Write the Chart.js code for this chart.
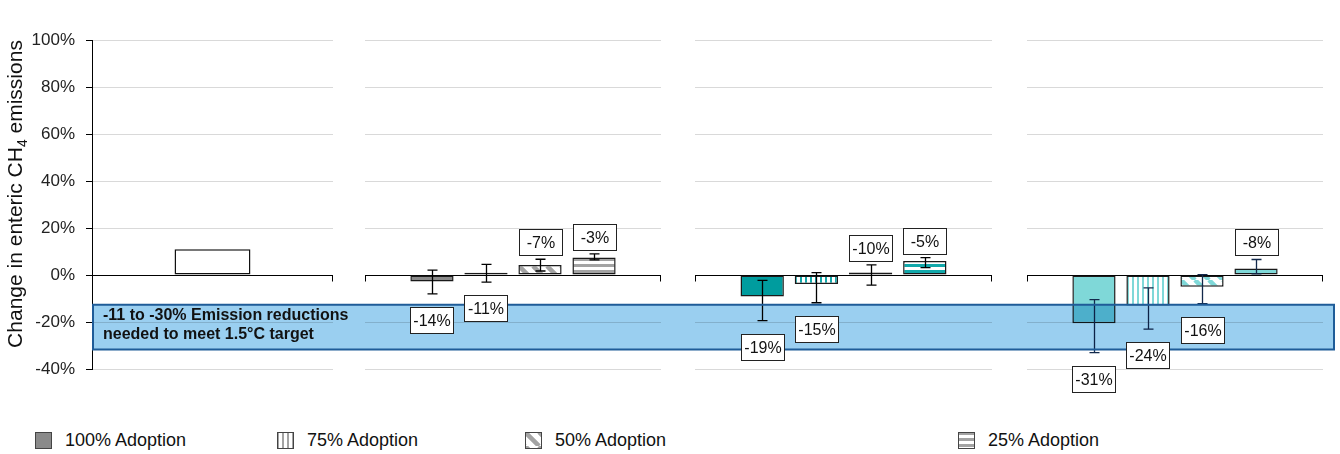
<!DOCTYPE html>
<html>
<head>
<meta charset="utf-8">
<script src="https://cdn.jsdelivr.net/npm/chart.js@4.4.0/dist/chart.umd.min.js"></script>
<style>
  body { margin: 0; background: #fff; width: 1340px; height: 454px; overflow: hidden; position: relative;
         font-family: "Liberation Sans", Arial, sans-serif; }
  .panel { position: absolute; top: 0; }
  .item { position: absolute; top: 431px; height: 18px; display: flex; align-items: center;
          font-size: 18px; color: #111; white-space: nowrap; }
  .item canvas { margin-right: 13px; }
</style>
</head>
<body>
<div class="panel" style="left:0px"><canvas id="p0" width="365" height="400"></canvas></div>
<div class="panel" style="left:365px"><canvas id="p1" width="330" height="400"></canvas></div>
<div class="panel" style="left:695px"><canvas id="p2" width="332" height="400"></canvas></div>
<div class="panel" style="left:1027px"><canvas id="p3" width="313" height="400"></canvas></div>
<div id="legend"></div>

<script>
// values (percent change)
const seriesNames = ['100% Adoption', '75% Adoption', '50% Adoption', '25% Adoption'];
const yTickValues = [-40, -20, 0, 20, 40, 60, 80, 100];
const baselineValue = [11];

const grayValues = [-2.8, 1.0, 4.3, 7.5];
const grayHigh = [2.1, 4.5, 6.7, 9.0];
const grayLow = [-8.0, -3.0, 1.7, 6.4];
const grayLabels = ['-14%', '-11%', '-7%', '-3%'];

const tealValues = [-9.2, -3.8, 1.1, 6.0];
const tealHigh = [-2.3, 1.0, 4.3, 7.4];
const tealLow = [-19.4, -11.8, -4.3, 3.1];
const tealLabels = ['-19%', '-15%', '-10%', '-5%'];

const aquaValues = [-20.5, -13.0, -5.0, 2.8];
const aquaHigh = [-10.5, -5.5, 0.2, 6.6];
const aquaLow = [-33.0, -23.0, -12.2, 0.5];
const aquaLabels = ['-31%', '-24%', '-16%', '-8%'];

const targetBand = [-12.7, -31.7];
const bandText = ['-11 to -30% Emission reductions', 'needed to meet 1.5°C target'];

const FONT = '"Liberation Sans", Arial, sans-serif';
const patternKinds = ['solid', 'vertical', 'diagonal', 'horizontal'];

Chart.defaults.font.family = FONT;
Chart.defaults.plugins.legend.display = false;
Chart.defaults.plugins.tooltip.enabled = false;

function makePattern(kind, color) {
  if (kind === 'solid') return color;
  const c = document.createElement('canvas');
  const g = c.getContext('2d');
  if (kind === 'vertical') {
    c.width = 5; c.height = 5;
    g.fillStyle = '#fff'; g.fillRect(0, 0, 5, 5);
    g.fillStyle = color; g.fillRect(0, 0, 2, 5);
  } else if (kind === 'horizontal') {
    c.width = 6; c.height = 6;
    g.fillStyle = '#fff'; g.fillRect(0, 0, 6, 6);
    g.fillStyle = color; g.fillRect(0, 0, 6, 3);
  } else {
    c.width = 14; c.height = 14;
    g.fillStyle = '#fff'; g.fillRect(0, 0, 14, 14);
    g.strokeStyle = color; g.lineWidth = 4.5;
    g.beginPath();
    for (let k = -1; k <= 1; k++) { g.moveTo(k * 14, 0); g.lineTo(k * 14 + 14, 14); }
    g.stroke();
  }
  return g.createPattern(c, 'repeat');
}

function decor(p) {
  return {
    id: 'decor' + p.id,
    beforeDatasetsDraw(chart) {
      const { ctx, chartArea: a, scales: { y } } = chart;
      const y0 = Math.round(y.getPixelForValue(0)) + 0.5;
      ctx.save();
      ctx.strokeStyle = '#000';
      ctx.lineWidth = 1;
      ctx.beginPath();
      ctx.moveTo(a.left, y0); ctx.lineTo(a.right, y0);
      if (!p.axis) { ctx.moveTo(a.left + 0.5, y0); ctx.lineTo(a.left + 0.5, y0 + 6); }
      ctx.moveTo(a.right - 0.5, y0); ctx.lineTo(a.right - 0.5, y0 + 6);
      ctx.stroke();
      ctx.restore();
    },
    afterDatasetsDraw(chart) {
      const { ctx, chartArea: a, scales: { y } } = chart;
      ctx.save();
      // error bars
      if (p.high) {
        ctx.strokeStyle = p.errColor;
        ctx.lineWidth = 1.3;
        p.high.forEach((hi, i) => {
          const bar = chart.getDatasetMeta(i).data[0];
          const x = Math.round(bar.x) + 0.5;
          const yh = y.getPixelForValue(hi), yl = y.getPixelForValue(p.low[i]);
          ctx.beginPath();
          ctx.moveTo(x, yh); ctx.lineTo(x, yl);
          ctx.moveTo(x - 5, yh); ctx.lineTo(x + 5, yh);
          ctx.moveTo(x - 5, yl); ctx.lineTo(x + 5, yl);
          ctx.stroke();
        });
      }
      // target band, spread through the gap to the next panel
      const yt = y.getPixelForValue(targetBand[0]), yb = y.getPixelForValue(targetBand[1]);
      const x0 = a.left, x1 = p.last ? a.right + 12 : chart.width;
      ctx.globalCompositeOperation = 'multiply';
      ctx.fillStyle = '#9acff0';
      ctx.fillRect(x0, yt, x1 - x0, yb - yt);
      ctx.globalCompositeOperation = 'source-over';
      ctx.strokeStyle = '#1f5c98';
      ctx.lineWidth = 2;
      ctx.beginPath();
      ctx.moveTo(x0, yt); ctx.lineTo(x1, yt);
      ctx.moveTo(x0, yb); ctx.lineTo(x1, yb);
      if (p.axis) { ctx.moveTo(x0 + 1, yt); ctx.lineTo(x0 + 1, yb); }
      if (p.last) { ctx.moveTo(x1 - 1, yt); ctx.lineTo(x1 - 1, yb); }
      ctx.stroke();
      if (p.axis) {
        ctx.fillStyle = '#111';
        ctx.font = 'bold 16px ' + FONT;
        ctx.textBaseline = 'middle';
        ctx.textAlign = 'left';
        ctx.fillText(bandText[0], a.left + 11, yt + 11);
        ctx.fillText(bandText[1], a.left + 11, yt + 30);
      }
      // value boxes
      if (p.labels) {
        ctx.font = '16px ' + FONT;
        ctx.textAlign = 'center';
        ctx.textBaseline = 'middle';
        p.labels.forEach((t, i) => {
          const bar = chart.getDatasetMeta(i).data[0];
          const w = Math.round(bar.width), h = 26;
          const left = Math.round(bar.x - w / 2) + 0.5;
          const top = p.side[i] === 'below'
            ? Math.round(y.getPixelForValue(p.low[i]) + 13) + 0.5
            : Math.round(y.getPixelForValue(p.high[i]) - 4 - h) + 0.5;
          ctx.fillStyle = '#fff';
          ctx.fillRect(left, top, w, h);
          ctx.strokeStyle = '#222';
          ctx.lineWidth = 1;
          ctx.strokeRect(left, top, w, h);
          ctx.fillStyle = '#111';
          ctx.fillText(t, left + w / 2, top + h / 2 + 1);
        });
      }
      ctx.restore();
    },
    afterDraw(chart) {
      if (!p.axis) return;
      // y title with CH4 subscript
      const ctx = chart.ctx;
      const big = '21px ' + FONT, small = '14px ' + FONT;
      const parts = [['Change in enteric CH', big, 0], ['4', small, 5], [' emissions', big, 0]];
      ctx.save();
      let total = 0;
      parts.forEach(pt => { ctx.font = pt[1]; total += ctx.measureText(pt[0]).width; });
      ctx.translate(22, 194);
      ctx.rotate(-Math.PI / 2);
      ctx.fillStyle = '#111';
      ctx.textBaseline = 'alphabetic';
      let x = -total / 2;
      parts.forEach(pt => {
        ctx.font = pt[1];
        ctx.fillText(pt[0], x, pt[2]);
        x += ctx.measureText(pt[0]).width;
      });
      ctx.restore();
    }
  };
}

function yScale(axis) {
  return {
    min: -40, max: 100,
    afterBuildTicks: s => { s.ticks = yTickValues.map(v => ({ value: v })); },
    afterFit: s => { s.width = axis ? 92 : 0; },
    ticks: { display: axis, callback: v => v + '%', color: '#222', font: { size: 17 }, padding: 11 },
    grid: { color: '#d9d9d9', lineWidth: 1, drawTicks: axis, tickLength: 6, tickColor: '#000' },
    border: { display: axis, color: '#000', width: 1 },
  };
}

function makePanel(p) {
  let datasets;
  if (p.values) {
    datasets = seriesNames.map((name, i) => ({
      label: name,
      data: [p.values[i]],
      backgroundColor: makePattern(patternKinds[i], i === 0 ? p.fill : p.stripe),
      borderColor: '#1a1a1a',
      borderWidth: 1.5,
      borderSkipped: false,
      categoryPercentage: 0.73,
      barPercentage: 0.8,
    }));
  } else {
    datasets = [{
      label: 'Baseline',
      data: baselineValue,
      backgroundColor: '#fff',
      borderColor: '#111',
      borderWidth: 1.5,
      borderSkipped: false,
      categoryPercentage: 1,
      barPercentage: 0.315,
    }];
  }
  new Chart(document.getElementById(p.id), {
    type: 'bar',
    data: { labels: [''], datasets },
    options: {
      responsive: false,
      animation: false,
      devicePixelRatio: 1,
      layout: { padding: { top: 40, bottom: 31, left: 0, right: p.padRight } },
      scales: { x: { display: false }, y: yScale(p.axis) },
    },
    plugins: [decor(p)],
  });
}

const panels = [
  { id: 'p0', axis: true, padRight: 32 },
  { id: 'p1', axis: false, padRight: 34, values: grayValues, high: grayHigh, low: grayLow, labels: grayLabels,
    side: ['below', 'below', 'above', 'above'], fill: '#8a8a8a', stripe: '#a3a3a3', errColor: '#000' },
  { id: 'p2', axis: false, padRight: 35, values: tealValues, high: tealHigh, low: tealLow, labels: tealLabels,
    side: ['below', 'below', 'above', 'above'], fill: '#009c9e', stripe: '#12a8aa', errColor: '#000' },
  { id: 'p3', axis: false, padRight: 17, last: true, values: aquaValues, high: aquaHigh, low: aquaLow, labels: aquaLabels,
    side: ['below', 'below', 'below', 'above'], fill: '#7fd8d8', stripe: '#7fd8d8', errColor: '#13294b' },
];
panels.forEach(makePanel);

// legend
const legendLefts = [35, 277, 525, 958];
const legend = document.getElementById('legend');
seriesNames.forEach((name, i) => {
  const item = document.createElement('div');
  item.className = 'item';
  item.style.left = legendLefts[i] + 'px';
  const c = document.createElement('canvas');
  c.width = 17; c.height = 17;
  const g = c.getContext('2d');
  g.fillStyle = makePattern(patternKinds[i], i === 0 ? '#8a8a8a' : '#a3a3a3');
  g.fillRect(0, 0, 17, 17);
  g.strokeStyle = '#444';
  g.lineWidth = 1;
  g.strokeRect(0.5, 0.5, 16, 16);
  item.appendChild(c);
  const span = document.createElement('span');
  span.textContent = name;
  item.appendChild(span);
  legend.appendChild(item);
});
</script>
</body>
</html>
